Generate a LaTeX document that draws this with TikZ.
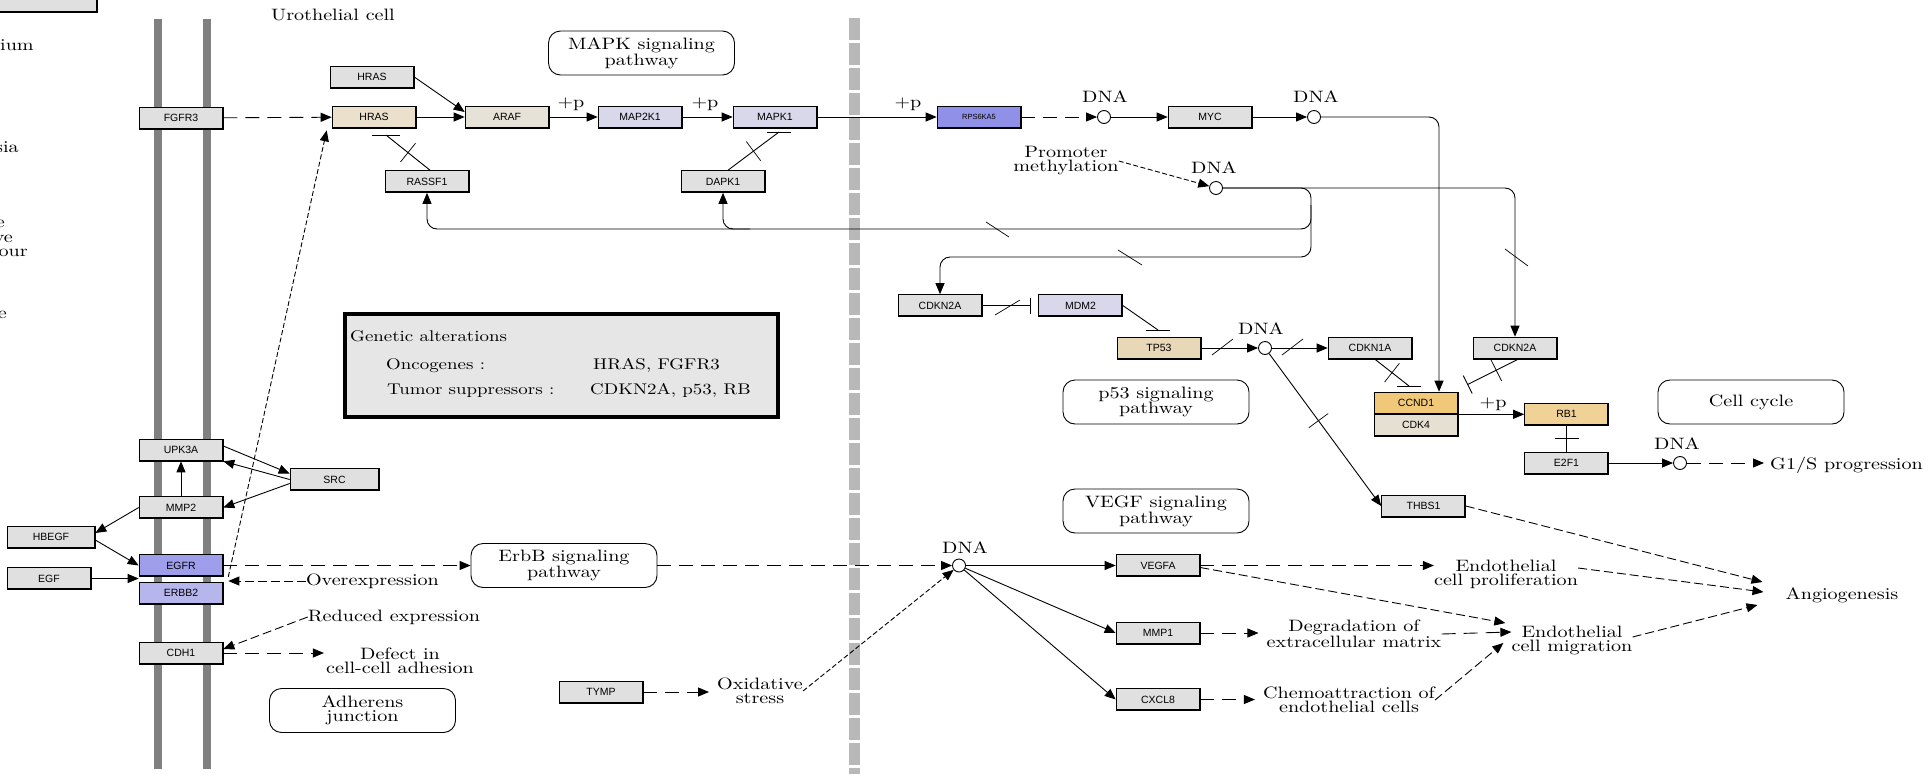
\documentclass[tikz,border=0pt]{standalone}
\usepackage{fontspec}
\usetikzlibrary{arrows.meta,decorations.markings,calc}
\newfontfamily\genef{Liberation Sans}
\newfontfamily\keggf{lmroman10-regular}[Extension=.otf, FakeStretch=1.22]
\newcommand\lblfont{\keggf\fontsize{16.5}{14}\selectfont}
\newcommand\boxfont{\keggf\fontsize{15.5}{14}\selectfont}
\definecolor{gfill}{RGB}{224,224,224}
\definecolor{hrasc}{RGB}{234,224,204}
\definecolor{arafc}{RGB}{230,226,216}
\definecolor{lavc}{RGB}{216,216,234}
\definecolor{rpsc}{RGB}{144,144,232}
\definecolor{egfrc}{RGB}{158,158,234}
\definecolor{erbbc}{RGB}{182,182,236}
\definecolor{tp53c}{RGB}{232,216,184}
\definecolor{ccndc}{RGB}{240,200,120}
\definecolor{cdk4c}{RGB}{230,224,210}
\definecolor{rbc}{RGB}{240,210,150}
\definecolor{galtc}{RGB}{230,230,230}
\definecolor{memgray}{RGB}{128,128,128}
\definecolor{dashgray}{RGB}{184,184,184}
\tikzset{
  gene/.style={draw=black, line width=0.6pt, fill=gfill, minimum width=84pt, minimum height=22pt,
    inner sep=0pt, font=\genef\fontsize{10.5}{12}\selectfont,
    path picture={\draw[line width=2.4pt] (path picture bounding box.north east) -- (path picture bounding box.south east) -- (path picture bounding box.south west);}},
  lbl/.style={font=\lblfont, inner sep=0pt, align=center},
  btxt/.style={font=\boxfont, inner sep=0pt},
  pw/.style={draw, rounded corners=12pt, line width=0.9pt, fill=white, minimum width=186pt,
    minimum height=44pt, align=center, font=\lblfont, inner sep=0pt},
  dna/.style={circle, draw, fill=white, minimum size=13pt, inner sep=0pt, line width=0.9pt},
  con/.style={line width=0.9pt},
  arr/.style={-{Triangle[length=11pt,width=9pt]}},
  ldash/.style={dash pattern=on 14pt off 8pt},
  mdash/.style={dash pattern=on 9pt off 4pt},
  fdash/.style={dash pattern=on 5pt off 2.5pt},
  tick/.style={line width=0.7pt},
  cutp/.style={postaction={decorate, decoration={markings, mark=at position #1 with {\draw[line width=0.7pt, solid, -] (0,-12pt) -- (0,12pt);}}}},
  cutp/.default=0.5
}
\begin{document}
\begin{tikzpicture}[x=1pt, y=-1pt]
\useasboundingbox (0,0) rectangle (1929,774);
% membranes
\fill[memgray] (154,19) rectangle (162,769);
\fill[memgray] (203,19) rectangle (211,769);
\draw[line width=11pt, draw=dashgray, dash pattern=on 22pt off 3pt] (854,18) -- (854,774);

% cut legend at left
\node[gene, minimum width=120pt] (legbox) at (37,1) {};
\node[lbl, anchor=base west] (t1) at (0,50) {ium};
\node[lbl, anchor=base east] (t2) at (19,152) {sia};
\node[lbl, anchor=base east] (t3) at (5,227) {e};
\node[lbl, anchor=base east] (t4) at (13,242) {ve};
\node[lbl, anchor=base east] (t5) at (28,256) {our};
\node[lbl, anchor=base east] (t6) at (7,318) {e};
\node[lbl] (uro) at (333,15) {Urothelial cell};

% genes
\node[gene] (fgfr3) at (181,118) {FGFR3};
\node[gene] (hrasT) at (372,77) {HRAS};
\node[gene, fill=hrasc] (hras) at (374,117) {HRAS};
\node[gene, fill=arafc] (araf) at (507,117) {ARAF};
\node[gene, fill=lavc] (map2k1) at (640,117) {MAP2K1};
\node[gene, fill=lavc] (mapk1) at (775,117) {MAPK1};
\node[gene] (rassf1) at (427,181.5) {RASSF1};
\node[gene] (dapk1) at (723,181.5) {DAPK1};
\node[gene, fill=rpsc, font=\genef\fontsize{7.5}{9}\selectfont] (rps) at (979,117) {RPS6KA5};
\node[gene] (myc) at (1210,117) {MYC};
\node[gene] (cdkn2aL) at (940,305.5) {CDKN2A};
\node[gene, fill=lavc] (mdm2) at (1080.5,305.5) {MDM2};
\node[gene, fill=tp53c] (tp53) at (1159,348) {TP53};
\node[gene] (cdkn1a) at (1370,348) {CDKN1A};
\node[gene] (cdkn2aR) at (1515,348) {CDKN2A};
\node[gene, fill=ccndc] (ccnd1) at (1416,403) {CCND1};
\node[gene, fill=cdk4c] (cdk4) at (1416,425) {CDK4};
\node[gene, fill=rbc] (rb1) at (1566.5,414) {RB1};
\node[gene] (e2f1) at (1566.5,463) {E2F1};
\node[gene] (thbs1) at (1423.5,506) {THBS1};
\node[gene] (vegfa) at (1158,565.5) {VEGFA};
\node[gene] (mmp1) at (1158,633) {MMP1};
\node[gene] (cxcl8) at (1158,699.5) {CXCL8};
\node[gene] (tymp) at (601,692) {TYMP};
\node[gene] (upk3a) at (181,450) {UPK3A};
\node[gene, minimum width=89pt] (src) at (334.5,479.5) {SRC};
\node[gene] (mmp2) at (181,507.5) {MMP2};
\node[gene, minimum width=88pt] (hbegf) at (51,537) {HBEGF};
\node[gene, fill=egfrc] (egfr) at (181,565.5) {EGFR};
\node[gene, fill=erbbc] (erbb2) at (181,593) {ERBB2};
\node[gene] (egf) at (49,578.5) {EGF};
\node[gene] (cdh1) at (181,653) {CDH1};

% DNA circles
\node[dna] (c1) at (1104,117) {};
\node[lbl] (d1) at (1105,97) {DNA};
\node[dna] (c2) at (1314,117) {};
\node[lbl] (d2) at (1316,97) {DNA};
\node[dna] (c3) at (1216,188) {};
\node[lbl] (d3) at (1214,168) {DNA};
\node[dna] (c4) at (1265,348) {};
\node[lbl] (d4) at (1261,329) {DNA};
\node[dna] (c5) at (1680,463) {};
\node[lbl] (d5) at (1677,444) {DNA};
\node[dna] (c6) at (959,565.5) {};
\node[lbl] (d6) at (965,548) {DNA};

% pathway boxes
\node[pw] (mapk) at (641.5,53) {MAPK signaling\\pathway};
\node[pw] (erbb) at (564,565.5) {ErbB signaling\\pathway};
\node[pw] (adh) at (362.5,710.5) {Adherens\\junction};
\node[pw] (p53) at (1156,402) {p53 signaling\\pathway};
\node[pw] (vegf) at (1156,511) {VEGF signaling\\pathway};
\node[pw] (cc) at (1751,402) {Cell cycle};

% genetic alterations
\node[draw, line width=4.5pt, fill=galtc, minimum width=433pt, minimum height=103pt, inner sep=0pt] (galt) at (561.5,365.5) {};
\node[btxt, anchor=base west] (ga) at (350,341) {Genetic alterations};
\node[btxt, anchor=base west] (onc) at (386,369) {Oncogenes :};
\node[btxt, anchor=base west] (onc2) at (593,369) {HRAS, FGFR3};
\node[btxt, anchor=base west] (ts) at (387,394) {Tumor suppressors :};
\node[btxt, anchor=base west] (ts2) at (590,394) {CDKN2A, p53, RB};

% labels
\node[lbl] (overexp) at (372.5,581) {Overexpression};
\node[lbl] (reduced) at (394,617) {Reduced expression};
\node[lbl] (defect) at (400,661) {Defect in\\cell-cell adhesion};
\node[lbl] (promoter) at (1066,161) {Promoter\\methylation};
\node[lbl] (oxid) at (760,691) {Oxidative\\stress};
\node[lbl] (prolif) at (1506,574) {Endothelial\\cell proliferation};
\node[lbl] (degr) at (1354,634) {Degradation of\\extracellular matrix};
\node[lbl] (chemo) at (1349,700) {Chemoattraction of\\endothelial cells};
\node[lbl] (migr) at (1572,640) {Endothelial\\cell migration};
\node[lbl] (angio) at (1842,595) {Angiogenesis};
\node[lbl] (g1s) at (1846.5,465) {G1/S progression};
\node[lbl] (p1) at (571,104) {+p};
\node[lbl] (p2) at (705,104) {+p};
\node[lbl] (p3) at (908,104) {+p};
\node[lbl] (p4) at (1493,404) {+p};

% MAPK cascade
\draw[con, ldash, arr] (fgfr3) -- (hras);
\draw[con, arr] (hrasT.east) -- ([yshift=5pt]araf.west);
\draw[con, arr] (hras) -- (araf);
\draw[con, arr] (araf) -- (map2k1);
\draw[con, arr] (map2k1) -- (mapk1);
\draw[con, arr] (mapk1) -- (rps);
\draw[con, ldash, arr] (rps) -- (c1);
\draw[con, arr] (c1) -- (myc);
\draw[con, arr] (myc) -- (c2);
\draw[con, arr, rounded corners=10pt] (c2) -| ([xshift=23pt]ccnd1.north);

% inhibitions of HRAS and MAPK1
\coordinate (hbar) at (386,135);
\draw[con, cutp] ([xshift=3pt]rassf1.north) -- (hbar);
\draw[con] ([xshift=-14pt]hbar) -- ([xshift=14pt]hbar);
\coordinate (mbar) at (779,132);
\draw[con, cutp] ([xshift=5pt]dapk1.north) -- (mbar);
\draw[con] ([xshift=-12pt]mbar) -- ([xshift=12pt]mbar);

% promoter methylation loop
\coordinate (loopR) at (1311,257);
\coordinate (jv) at (1311,205);
\coordinate (loopL) at (427,229);
\coordinate (dj) at (750,229);
\draw[con, arr, rounded corners=10pt] (c3) -| (cdkn2aR.north);
\draw[con, arr, rounded corners=10pt] (c3) -| (loopR) -| (cdkn2aL.north);
\draw[con, arr, rounded corners=10pt] (jv) |- (loopL) -- (rassf1.south);
\draw[con, arr, rounded corners=10pt] (dj) -| (dapk1.south);
\draw[tick] (986,222) -- (1009,237);
\draw[tick] (1118,250) -- (1142,265);
\draw[tick] (1505,249) -- (1528,266);
\draw[con, fdash, arr] (promoter.east) -- (c3);

% p53
\draw[con, -{Bar[width=16pt]}, shorten >=7pt] (cdkn2aL) -- (mdm2);
\draw[tick] (995,315) -- (1020,300);
\coordinate (pbar) at (1158,330);
\draw[con] (mdm2.east) -- (pbar);
\draw[con] ([xshift=-12pt]pbar) -- ([xshift=12pt]pbar);
\draw[con, arr] (tp53) -- (c4);
\draw[tick] (1212,355) -- (1233,339);
\draw[con, arr] (c4) -- (cdkn1a);
\draw[tick] (1282,355) -- (1303,339);
\draw[con, arr, cutp=0.44] (c4) -- (thbs1.west);

% cell cycle
\coordinate (cbar) at (1409,386);
\draw[con, cutp] ([xshift=5pt]cdkn1a.south) -- (cbar);
\draw[con] ([xshift=-12pt]cbar) -- ([xshift=12pt]cbar);
\draw[con, -{Bar[width=20pt]}, cutp=0.43] ([xshift=3pt]cdkn2aR.south) -- ([xshift=9pt,yshift=7pt]ccnd1.north east);
\draw[con, arr] (ccnd1.south east) -- (rb1.west |- ccnd1.south east);
\draw[con, cutp] (rb1) -- (e2f1);
\draw[con, arr] (e2f1) -- (c5);
\draw[con, ldash, arr, shorten >=6pt] (c5) -- (c5 -| g1s.west);

% membrane receptors
\draw[con, arr] (mmp2) -- (upk3a);
\draw[con, arr] ([yshift=4pt]upk3a.east) -- ([yshift=6pt]src.west);
\draw[con, arr] (src.west) -- (upk3a.south east);
\draw[con, arr] ([yshift=-4pt]src.west) -- (mmp2.east);
\draw[con, arr] (mmp2.west) -- ([yshift=4pt]hbegf.east);
\draw[con, arr] ([yshift=-3pt]hbegf.east) -- (egfr.west);
\draw[con, arr] (egf.east) -- (egf.east -| egfr.west);
\draw[con, ldash, arr] (egfr.east) -- (erbb.west);
\draw[con, mdash, arr, shorten >=5pt] (overexp.west) -- (overexp.west -| egfr.east);
\draw[con, mdash, arr] (reduced.west) -- ([yshift=4pt]cdh1.east);
\draw[con, ldash, arr, shorten >=2pt] (cdh1.east) -- (cdh1.east -| defect.west);
\draw[con, fdash, arr] ([xshift=5pt]egfr.south east) -- ([xshift=-5pt,yshift=-2pt]hras.south west);

% VEGF part
\draw[con, ldash, arr, shorten >=8pt] (tymp.east) -- (tymp.east -| oxid.west);
\draw[con, fdash, arr] (oxid.east) -- (c6);
\draw[con, ldash, arr] (erbb.east) -- (c6.west);
\draw[con, arr] (c6) -- (vegfa.west);
\draw[con, arr] (c6) -- (mmp1.west);
\draw[con, arr] (c6) -- (cxcl8.west);
\draw[con, ldash, arr] (vegfa.east) -- (vegfa.east -| prolif.west);
\draw[con, mdash, arr] ([yshift=-2pt]vegfa.east) -- ([xshift=-6pt,yshift=17pt]migr.west);
\draw[con, ldash, arr, shorten >=8pt] (mmp1.east) -- (mmp1.east -| degr.west);
\draw[con, ldash, arr] (degr.east) -- ([yshift=8pt]migr.west);
\draw[con, ldash, arr, shorten >=8pt] (cxcl8.east) -- (cxcl8.east -| chemo.west);
\draw[con, mdash, arr] (chemo.east) -- ([xshift=-8pt,yshift=-3pt]migr.west);
\draw[con, mdash, arr] (thbs1.east) -- ([xshift=-23pt,yshift=13pt]angio.west);
\draw[con, mdash, arr] ([yshift=6pt]prolif.east) -- ([xshift=-22pt,yshift=3pt]angio.west);
\draw[con, mdash, arr] ([yshift=3pt]migr.east) -- ([xshift=-28pt,yshift=-10pt]angio.west);
\end{tikzpicture}
\end{document}
